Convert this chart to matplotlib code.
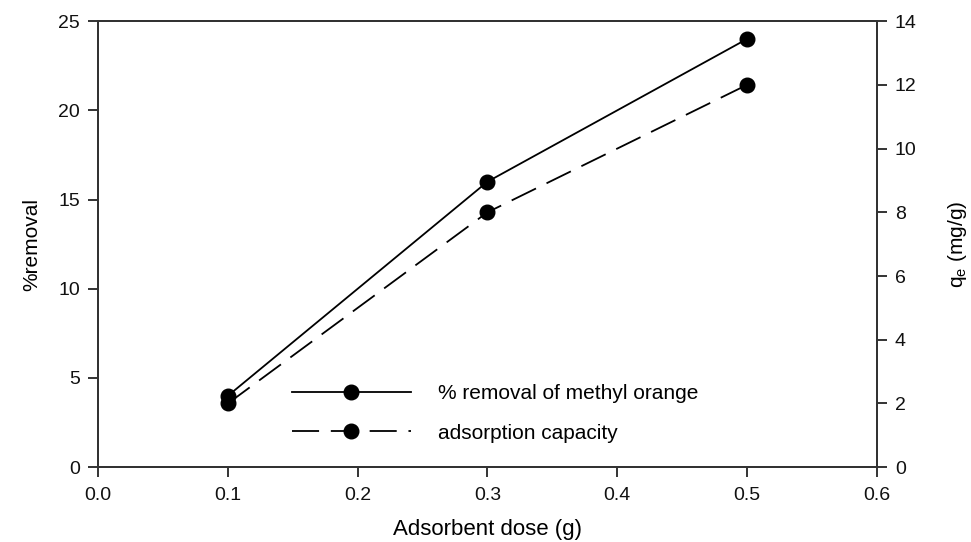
import matplotlib
matplotlib.use('Agg')
import matplotlib.pyplot as plt

dose = [0.1, 0.3, 0.5]
removal = [4.0, 16.0, 24.0]
capacity = [2.0, 8.0, 12.0]

plt.rcParams['font.family'] = ['Liberation Sans', 'DejaVu Sans']
plt.rcParams['font.size'] = 13

fig = plt.figure(figsize=(9.71, 5.42), dpi=100)
ax = fig.add_axes([0.101, 0.138, 0.802, 0.823])
ax2 = ax.twinx()

l1, = ax.plot(dose, removal, 'k-', linewidth=1.3, marker='o', markersize=10.5,
              label='% removal of methyl orange')
l2, = ax2.plot(dose, capacity, 'k-', linewidth=1.3, dashes=(15, 6.5), marker='o',
               markersize=10.5, label='adsorption capacity')

ax.set_xlim(0, 0.6)
ax.set_ylim(0, 25)
ax2.set_ylim(0, 14)
ax.set_xticks([0.0, 0.1, 0.2, 0.3, 0.4, 0.5, 0.6])
ax.set_xticklabels(['0.0', '0.1', '0.2', '0.3', '0.4', '0.5', '0.6'])
ax.set_yticks([0, 5, 10, 15, 20, 25])
ax2.set_yticks([0, 2, 4, 6, 8, 10, 12, 14])

for a in (ax, ax2):
    a.tick_params(direction='out', length=7, width=1.2, labelsize=14, colors='#111111')
    for s in a.spines.values():
        s.set_linewidth(1.4)
        s.set_color('#333333')
ax.tick_params(axis='x', pad=7)
ax.tick_params(axis='y', pad=6)
ax2.tick_params(axis='y', pad=6)

ax.set_xlabel('Adsorbent dose (g)', fontsize=16, labelpad=11)
ax.set_ylabel('%removal', fontsize=15, labelpad=12)
ax2.set_ylabel('q$_\\mathregular{e}$ (mg/g)', fontsize=15, labelpad=21)

ax.legend([l1, l2], [l1.get_label(), l2.get_label()], loc='lower left',
          bbox_to_anchor=(0.225, 0.013), frameon=False, handlelength=5.7,
          handletextpad=1.3, labelspacing=1.0, fontsize=15)

fig.savefig('out.png', dpi=100)
